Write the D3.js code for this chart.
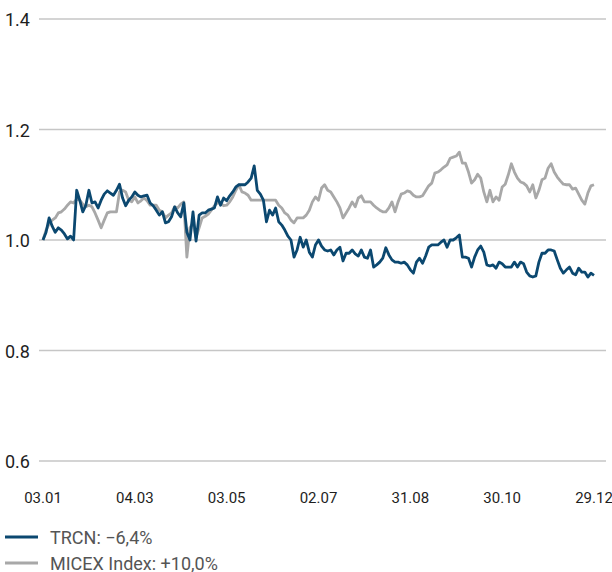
<!DOCTYPE html>
<html>
<head>
<meta charset="utf-8" />
<title>TRCN vs MICEX</title>
<script src="https://d3js.org/d3.v7.min.js"></script>
<style>
  body { margin: 0; background: #fff; }
  svg { font-family: Roboto, "Open Sans", sans-serif; }
</style>
</head>
<body>
<svg id="chart" width="612" height="572"></svg>
<script>
// sampling grid: one value every 2 calendar days from 03.01.2018 to 29.12.2018
var startDate = "2018-01-03";
var stepDays = 2;

var trcn = [
  1.000, 1.014, 1.040, 1.025, 1.014, 1.022, 1.018, 1.011, 1.002, 1.007,
  1.000, 1.090, 1.072, 1.051, 1.063, 1.090, 1.067, 1.069, 1.058, 1.072,
  1.083, 1.089, 1.085, 1.081, 1.090, 1.101, 1.076, 1.062, 1.072, 1.078,
  1.087, 1.081, 1.078, 1.080, 1.081, 1.067, 1.062, 1.054, 1.045, 1.051,
  1.031, 1.033, 1.042, 1.060, 1.049, 1.042, 1.067, 1.014, 1.000, 1.051,
  0.998, 1.045, 1.049, 1.049, 1.054, 1.056, 1.058, 1.078, 1.063, 1.076,
  1.071, 1.080, 1.087, 1.096, 1.100, 1.100, 1.100, 1.105, 1.112, 1.134,
  1.090, 1.083, 1.072, 1.033, 1.054, 1.045, 1.058, 1.033, 1.027, 1.018,
  1.007, 1.000, 0.969, 0.982, 1.005, 0.987, 1.000, 0.978, 0.969, 0.991,
  1.000, 0.989, 0.982, 0.980, 0.982, 0.973, 0.982, 0.987, 0.962, 0.976,
  0.976, 0.982, 0.975, 0.971, 0.982, 0.969, 0.967, 0.982, 0.951, 0.955,
  0.960, 0.967, 0.986, 0.973, 0.964, 0.960, 0.960, 0.958, 0.960, 0.955,
  0.946, 0.940, 0.960, 0.967, 0.958, 0.971, 0.987, 0.991, 0.991, 0.991,
  0.996, 1.000, 0.987, 1.000, 1.000, 1.004, 1.009, 0.969, 0.969, 0.967,
  0.951, 0.969, 0.982, 0.989, 0.978, 0.955, 0.953, 0.955, 0.949, 0.960,
  0.957, 0.951, 0.951, 0.951, 0.960, 0.951, 0.960, 0.957, 0.942, 0.935,
  0.933, 0.935, 0.960, 0.976, 0.976, 0.982, 0.982, 0.980, 0.964, 0.949,
  0.940, 0.946, 0.951, 0.940, 0.937, 0.949, 0.942, 0.942, 0.933, 0.940,
  0.936
];

var micex = [
  1.000, 1.018, 1.029, 1.036, 1.040, 1.049, 1.051, 1.056, 1.063, 1.069,
  1.067, 1.074, 1.072, 1.065, 1.060, 1.063, 1.060, 1.049, 1.036, 1.022,
  1.036, 1.049, 1.051, 1.051, 1.051, 1.087, 1.090, 1.087, 1.072, 1.069,
  1.078, 1.067, 1.071, 1.076, 1.071, 1.063, 1.063, 1.063, 1.054, 1.051,
  1.040, 1.045, 1.049, 1.060, 1.058, 1.065, 1.069, 0.969, 1.022, 1.031,
  1.005, 1.022, 1.040, 1.043, 1.047, 1.054, 1.062, 1.067, 1.067, 1.062,
  1.063, 1.069, 1.078, 1.090, 1.100, 1.087, 1.085, 1.081, 1.072, 1.072,
  1.072, 1.072, 1.072, 1.072, 1.072, 1.072, 1.072, 1.063, 1.058, 1.049,
  1.045, 1.036, 1.031, 1.040, 1.040, 1.040, 1.045, 1.054, 1.069, 1.078,
  1.072, 1.094, 1.100, 1.090, 1.087, 1.078, 1.069, 1.058, 1.040, 1.049,
  1.058, 1.069, 1.060, 1.076, 1.080, 1.069, 1.069, 1.069, 1.063, 1.058,
  1.054, 1.051, 1.051, 1.058, 1.069, 1.051, 1.069, 1.083, 1.085, 1.089,
  1.087, 1.081, 1.078, 1.078, 1.080, 1.089, 1.098, 1.103, 1.121, 1.123,
  1.127, 1.132, 1.136, 1.148, 1.150, 1.152, 1.159, 1.139, 1.139, 1.123,
  1.103, 1.109, 1.119, 1.112, 1.087, 1.069, 1.090, 1.069, 1.078, 1.072,
  1.096, 1.101, 1.118, 1.138, 1.123, 1.112, 1.105, 1.103, 1.098, 1.087,
  1.100, 1.076, 1.090, 1.109, 1.112, 1.130, 1.138, 1.123, 1.114, 1.107,
  1.101, 1.100, 1.100, 1.092, 1.094, 1.083, 1.072, 1.065, 1.085, 1.098,
  1.100
];

var yTicks = [0.6, 0.8, 1.0, 1.2, 1.4];
var xTickLabels = ["03.01", "04.03", "03.05", "02.07", "31.08", "30.10", "29.12"];

var series = [
  { name: "TRCN: \u22126,4%", values: trcn, color: "#0b4870" },
  { name: "MICEX Index: +10,0%", values: micex, color: "#a8a8a8" }
];

var svg = d3.select("#chart");
var parseIso = d3.timeParse("%Y-%m-%d");
var parseTick = d3.timeParse("%d.%m.%Y");
var t0 = parseIso(startDate);

function dateAt(i) { return d3.timeDay.offset(t0, i * stepDays); }

var x = d3.scaleTime()
  .domain([t0, parseTick("29.12.2018")])
  .range([43, 594]);

var y = d3.scaleLinear()
  .domain([0.6, 1.4])
  .range([461, 19]);

// grid lines + y labels
var yAxis = svg.append("g").attr("class", "axis axis--y");
yAxis.selectAll("line").data(yTicks).enter().append("line")
  .attr("x1", 39).attr("x2", 606)
  .attr("y1", function (d) { return y(d); })
  .attr("y2", function (d) { return y(d); })
  .attr("stroke", "#c6c6c6")
  .attr("stroke-width", 1.5);

yAxis.selectAll("text").data(yTicks).enter().append("text")
  .attr("x", 5)
  .attr("y", function (d) { return y(d) + 7; })
  .attr("font-size", 18)
  .attr("fill", "#1e1e1e")
  .text(function (d) { return d3.format(".1f")(d); });

// x labels
var xAxis = svg.append("g").attr("class", "axis axis--x");
xAxis.selectAll("text").data(xTickLabels).enter().append("text")
  .attr("x", function (d) { return x(parseTick(d + ".2018")); })
  .attr("y", 503)
  .attr("text-anchor", "middle")
  .attr("font-size", 15)
  .attr("fill", "#1e1e1e")
  .text(function (d) { return d; });

// lines (grey first so TRCN sits on top)
var line = d3.line()
  .x(function (d, i) { return x(dateAt(i)); })
  .y(function (d) { return y(d); })
  .curve(d3.curveLinear);

svg.append("g").selectAll("path").data(series.slice().reverse()).enter().append("path")
  .attr("class", "line")
  .attr("fill", "none")
  .attr("stroke", function (d) { return d.color; })
  .attr("stroke-width", 2.8)
  .attr("stroke-linejoin", "round")
  .attr("d", function (d) { return line(d.values); });

// legend
var legend = svg.append("g").attr("class", "legend");
var item = legend.selectAll("g").data(series).enter().append("g")
  .attr("transform", function (d, i) { return "translate(0," + (537 + i * 26) + ")"; });

item.append("line")
  .attr("x1", 5).attr("x2", 38)
  .attr("stroke", function (d) { return d.color; })
  .attr("stroke-width", 3);

item.append("text")
  .attr("x", 50)
  .attr("y", 6.5)
  .attr("font-size", 18)
  .attr("fill", "#555")
  .text(function (d) { return d.name; });
</script>
</body>
</html>
